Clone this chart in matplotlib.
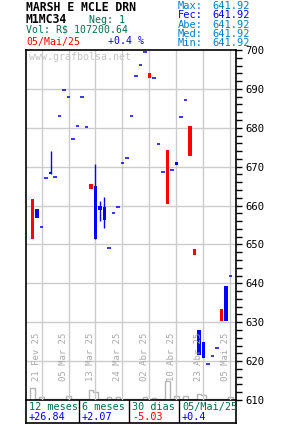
import matplotlib
matplotlib.use("Agg")
import matplotlib.pyplot as plt
from matplotlib.ticker import MultipleLocator
import numpy as np

W, H = 285, 425

# candle data (one entry per trading day, left to right)
opens = [661.7, 656.9, 654.4, 667.0, 668.2, 667.3, 683.0, 689.6, 687.8, 677.0,
         680.4, 687.8, 680.1, 665.6, 651.4, 658.9, 656.3, 649.0, 658.1, 659.6,
         670.9, 672.2, 683.0, 693.2, 696.1, 699.4, 694.2, 692.7, 675.8, 668.6,
         674.3, 669.1, 670.4, 682.7, 687.1, 680.4, 648.8, 621.6, 620.9, 619.2,
         621.3, 623.3, 633.3, 630.3, 641.92]
closes = [651.4, 659.1, 654.4, 667.0, 668.7, 667.3, 683.0, 689.6, 687.8, 677.0,
          680.4, 687.8, 680.1, 664.3, 665.0, 659.9, 659.6, 649.0, 658.1, 659.6,
          670.9, 672.2, 683.0, 693.2, 696.1, 699.4, 692.9, 692.7, 675.8, 668.6,
          660.4, 669.1, 671.1, 682.7, 687.1, 672.8, 647.4, 628.0, 624.9, 619.2,
          621.3, 623.3, 630.3, 639.3, 641.92]
highs = [661.7, 659.1, 654.4, 667.0, 674.0, 667.3, 683.0, 689.6, 687.8, 677.0,
         680.4, 687.8, 680.1, 665.6, 670.7, 661.2, 662.2, 649.0, 658.1, 659.6,
         670.9, 672.2, 683.0, 693.2, 696.1, 699.4, 694.2, 692.7, 675.8, 668.6,
         674.3, 669.1, 671.1, 682.7, 687.1, 680.4, 648.8, 628.0, 624.9, 619.2,
         621.3, 623.3, 633.3, 639.3, 641.92]
lows = [651.4, 656.9, 654.4, 667.0, 668.2, 667.3, 683.0, 689.6, 687.8, 677.0,
        680.4, 687.8, 680.1, 664.3, 651.4, 656.0, 654.2, 649.0, 658.1, 659.6,
        670.9, 672.2, 683.0, 693.2, 696.1, 699.4, 692.9, 692.7, 675.8, 668.6,
        660.4, 669.1, 670.4, 682.7, 687.1, 672.8, 647.4, 621.6, 620.9, 619.2,
        621.3, 623.3, 630.3, 630.3, 641.92]
volumes = [12, 1, 3, 1, 1, 1, 1, 1, 4, 1, 1, 1, 1, 10, 8, 1, 1, 3, 1, 3,
           1, 1, 1, 1, 1, 3, 1, 2, 1, 1, 19, 1, 4, 1, 4, 1, 1, 6, 5, 1,
           1, 1, 1, 1, 3]

date_idx = [2, 8, 14, 20, 26, 32, 38, 44]
date_labels = ["21 Fev 25", "05 Mar 25", "13 Mar 25", "24 Mar 25",
               "02 Abr 25", "10 Abr 25", "23 Abr 25", "05 Mai 25"]

periods = ["12 meses", "6 meses", "30 dias", "05/Mai/25"]
changes = ["+26.84", "+2.07", "-5.03", "+0.4"]

stat_names = ["Max:", "Fec:", "Abe:", "Med:", "Min:"]
stat_vals = ["641.92", "641.92", "641.92", "641.92", "641.92"]

RED = "#ff0000"
BLUE = "#0000ff"
GREEN = "#006e50"
LBLUE = "#0080c8"
GRID = "#cccccc"
MONO = "DejaVu Sans Mono"


def fx(x):
    return x / W


def fy(y):
    return 1 - y / H


fig = plt.figure(figsize=(W / 100, H / 100), dpi=100)

# main price axes: pixel box x 26..236, y 50..400
x0, x1, y0, y1 = 26, 236, 50, 400
rect = [fx(x0), fy(y1), (x1 - x0) / W, (y1 - y0) / H]
ax = fig.add_axes(rect)
n = len(opens)
xlo = (x0 - 32.5) / 4.5
xhi = (x1 - 32.5) / 4.5
ax.set_xlim(xlo, xhi)
ax.set_ylim(610, 700)

# volume outline in the bottom of the plot
axv = fig.add_axes(rect, frameon=False)
axv.set_xlim(xlo, xhi)
axv.set_ylim(0, max(volumes) * 350 / 19)
axv.stairs(volumes, np.arange(n + 1) - 0.5, fill=False, color="#b4b4b4", lw=1, baseline=0)
axv.set_xticks([])
axv.set_yticks([])

ax.set_zorder(axv.get_zorder() + 1)
ax.patch.set_visible(False)

for v in range(620, 700, 10):
    ax.axhline(v, color=GRID, lw=1, zorder=0)
for i in date_idx:
    ax.axvline(i, color=GRID, lw=1, zorder=0)

bw = 0.67
for i in range(n):
    o, c, h, l = opens[i], closes[i], highs[i], lows[i]
    col = BLUE if c >= o else RED
    if h > max(o, c) or l < min(o, c):
        ax.vlines(i, l, h, color=col, lw=1, zorder=3)
    if o == c:
        ax.hlines(o, i - bw / 2, i + bw / 2, color=col, lw=1.1, zorder=3)
    else:
        ax.bar(i, abs(c - o), bottom=min(o, c), width=bw, color=col, lw=0, zorder=3)

# rotated date labels, just left of each vertical grid line
for i, lab in zip(date_idx, date_labels):
    ax.text(i - 0.07, 0.054, lab, rotation=90, ha="right", va="bottom",
            color="#a8a8a8", fontsize=6.4, family=MONO,
            transform=ax.get_xaxis_transform())

ax.text(0.012, 0.993, "www.grafbolsa.net", transform=ax.transAxes, ha="left", va="top",
        color="#c4c4c4", fontsize=7.2, family=MONO)

ax.yaxis.tick_right()
ax.yaxis.set_major_locator(MultipleLocator(10))
ax.yaxis.set_minor_locator(MultipleLocator(2))
ax.tick_params(axis="y", which="both", direction="out", length=4, width=1, color="black",
               labelsize=7.6, pad=3)
ax.tick_params(axis="x", bottom=False, labelbottom=False)
for lab in ax.get_yticklabels():
    lab.set_family(MONO)
ax.spines["left"].set_linewidth(1.2)
ax.spines["top"].set_linewidth(1.2)
ax.spines["right"].set_linewidth(1.2)
ax.spines["bottom"].set_visible(False)

# bottom table
axt = fig.add_axes([fx(x0), fy(423), (x1 - x0) / W, 23 / H])
axt.set_xlim(x0, x1)
axt.set_ylim(423, 400)
axt.set_xticks([])
axt.set_yticks([])
for s in axt.spines.values():
    s.set_linewidth(1.2)
col_x = [26, 79, 129, 179]
for cx in col_x[1:]:
    axt.axvline(cx, color="black", lw=1)
for cx, p, ch in zip(col_x, periods, changes):
    axt.text(cx + 3, 410, p, color=GREEN, fontsize=7.3, family=MONO, va="baseline")
    axt.text(cx + 3, 420, ch, color=RED if ch.startswith("-") else BLUE,
             fontsize=7.3, family=MONO, va="baseline")

# header
fig.text(fx(26), fy(11), "MARSH E MCLE DRN", fontsize=8.3, weight="bold", family=MONO,
         color="black", va="baseline")
fig.text(fx(26), fy(22.7), "M1MC34", fontsize=8.3, weight="bold", family=MONO,
         color="black", va="baseline")
fig.text(fx(89), fy(22.7), "Neg: 1", fontsize=7.2, family=MONO, color=GREEN, va="baseline")
fig.text(fx(26), fy(33), "Vol: R$ 107200.64", fontsize=7.1, family=MONO, color=GREEN,
         va="baseline")
fig.text(fx(26), fy(44.5), "05/Mai/25", fontsize=7.1, family=MONO, color=RED, va="baseline")
fig.text(fx(108), fy(44.5), "+0.4 %", fontsize=7.1, family=MONO, color=BLUE, va="baseline")

for k, (nm, vl) in enumerate(zip(stat_names, stat_vals)):
    c = BLUE if nm == "Fec:" else LBLUE
    yb = 9.3 + 9.1 * k
    fig.text(fx(178), fy(yb), nm, fontsize=7.5, family=MONO, color=c, va="baseline")
    fig.text(fx(250), fy(yb), vl, fontsize=7.5, family=MONO, color=c, va="baseline", ha="right")

fig.savefig("out.png", dpi=100)
